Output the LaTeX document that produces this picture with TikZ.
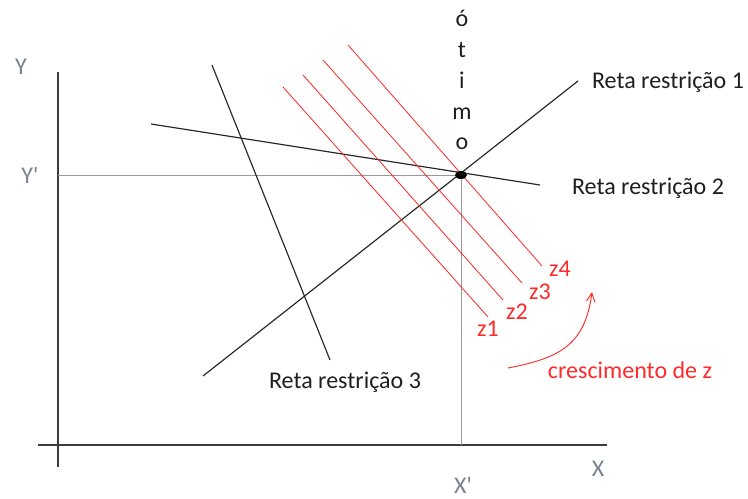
\documentclass[tikz,border=0pt]{standalone}
\usepackage{fontspec}
\setmainfont{Carlito}
\usepackage{xcolor}
\usetikzlibrary{arrows.meta}
\definecolor{axisgray}{HTML}{3C3C3C}
\definecolor{guide}   {HTML}{999999}
\definecolor{tick}    {HTML}{7A8290}
\definecolor{zred}    {HTML}{FF2A2A}

\begin{document}
\begin{tikzpicture}[x=0.03cm, y=-0.03cm,
  % one pixel of the reference is one unit, y running downwards
  lbl/.style={font=\fontsize{20.5}{24}\selectfont, inner sep=0pt, text=black!88},
  axlbl/.style={lbl, text=tick},
  zlbl/.style={lbl, text=zred},
  axis/.style={line width=1.1pt, color=axisgray},
  guideline/.style={line width=0.8pt, color=guide},
  restr/.style={line width=1pt, color=black!85},
  zline/.style={line width=0.7pt, color=zred},
  zarrow/.style={-{Straight Barb[length=2.6mm, width=2.6mm]}, line width=0.8pt, color=zred}
]
\useasboundingbox (0,0) rectangle (748,498);

% axes
\coordinate (o1) at (38,445);
\coordinate (xend) at (607,445);
\coordinate (ytop) at (58,72);
\coordinate (ybot) at (58,467);
\draw[axis] (o1) -- (xend);
\draw[axis] (ytop) -- (ybot);

\node[axlbl] (ylab)  at (21,67)   {Y};
\node[axlbl] (yplab) at (30,175)  {Y\textquotesingle};
\node[axlbl] (xlab)  at (598,469) {X};
\node[axlbl] (xplab) at (463,485) {X\textquotesingle};

% projections of the optimum
\coordinate (opt) at (461,175);
\coordinate (yp) at (58,175);
\coordinate (xp) at (461,445);
\draw[guideline] (yp) -- (opt) -- (xp);

% constraint lines
\coordinate (r1a) at (203,376);
\coordinate (r1b) at (578,81);
\coordinate (r2a) at (151,124);
\coordinate (r2b) at (540,185);
\coordinate (r3a) at (212,65);
\coordinate (r3b) at (330,360);
\draw[restr] (r1a) -- (r1b);
\draw[restr] (r2a) -- (r2b);
\draw[restr] (r3a) -- (r3b);

\node[lbl] (rr1) at (668,82)  {Reta restrição 1};
\node[lbl] (rr2) at (648,188) {Reta restrição 2};
\node[lbl] (rr3) at (345,382) {Reta restrição 3};

% objective lines z1..z4
\coordinate (z1a) at (283,87);  \coordinate (z1b) at (488,317);
\coordinate (z2a) at (303,75);  \coordinate (z2b) at (503,300);
\coordinate (z3a) at (323,60);  \coordinate (z3b) at (522,283);
\coordinate (z4a) at (348,45);  \coordinate (z4b) at (542,266);
\foreach \i in {1,...,4}
  \draw[zline] (z\i a) -- (z\i b);

\node[zlbl] (z1) at (488,329) {z1};
\node[zlbl] (z2) at (517,312) {z2};
\node[zlbl] (z3) at (540,292) {z3};
\node[zlbl] (z4) at (560,269) {z4};

% optimum point
\fill[black] (opt) ellipse (6 and 4);
\node[lbl, align=center, font=\fontsize{20.5}{26.4}\selectfont] (otimo) at (462,80) {ó\\t\\i\\m\\o};

% growth of z
\coordinate (ga) at (508,368);
\coordinate (gb) at (592,292);
\draw[zarrow] (ga) .. controls (560,358) and (585,345) .. (gb);
\node[zlbl] (cresc) at (630,370) {crescimento de z};

\end{tikzpicture}
\end{document}
